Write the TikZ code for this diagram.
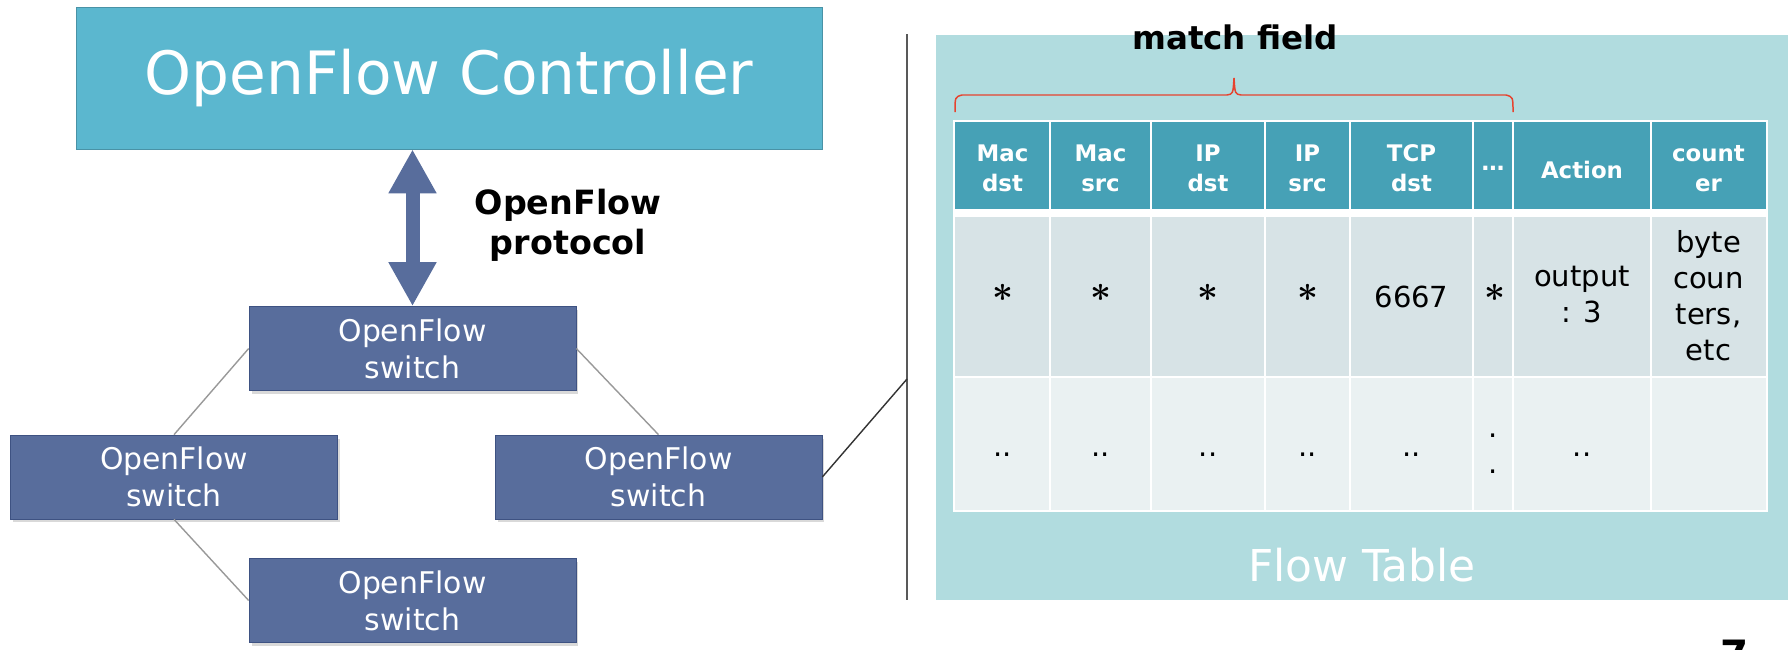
\documentclass[tikz,border=0pt]{standalone}
\usepackage{fontspec}
\setmainfont{DejaVu Sans}
\usetikzlibrary{arrows.meta,positioning,shadows}
\definecolor{ctrlblue}{HTML}{5BB7CF}
\definecolor{swblue}{HTML}{586D9C}
\definecolor{swedge}{HTML}{3E5282}
\definecolor{tblbg}{HTML}{B1DCDF}
\definecolor{hdrteal}{HTML}{46A1B6}
\definecolor{rowone}{HTML}{D7E3E6}
\definecolor{rowtwo}{HTML}{EAF1F2}
\definecolor{bracered}{HTML}{E6432F}

\begin{document}
\begin{tikzpicture}[
  x=0.02cm, y=-0.02cm,
  ofswitch/.style={draw=swedge,fill=swblue,minimum width=6.54cm,minimum height=1.68cm,
                   align=center,text=white,font=\fontsize{17}{21}\selectfont,
                   drop shadow={shadow xshift=0.05cm,shadow yshift=-0.07cm,opacity=0.3}},
  link/.style={black!40,line width=0.8pt},
  dblarr/.style={{Triangle[width=0.9cm,length=0.88cm]}-{Triangle[width=0.9cm,length=0.88cm]},
                 line width=0.28cm,draw=swblue},
  hdr/.style={align=center,text=white,font=\bfseries\fontsize{13}{17}\selectfont},
  cell/.style={align=center,font=\fontsize{16.5}{20.5}\selectfont},
  star/.style={font=\boldmath\fontsize{21}{25}\selectfont},
  cellsep/.style={white,line width=1.1pt}
]
\useasboundingbox (0,0) rectangle (1788,649);
% Controller
\node[draw=ctrlblue!80!black,fill=ctrlblue,minimum width=14.92cm,minimum height=2.84cm,
      text=white,font=\fontsize{34}{40}\selectfont]
  (ctrl) at (449,78) {OpenFlow Controller};
% Switches
\node[ofswitch] (sw1) at (412.5,348.5) {OpenFlow\\switch};
\node[ofswitch] (swl) at (174,477) {OpenFlow\\switch};
\node[ofswitch] (swr) at (658.5,477) {OpenFlow\\switch};
\node[ofswitch] (swb) at (412.5,600.5) {OpenFlow\\switch};
% Protocol
\draw[dblarr] (sw1.north |- ctrl.south) -- (sw1.north);
\node[align=center,font=\bfseries\fontsize{19}{23}\selectfont] (proto) at (568,225)
  {OpenFlow\\protocol};
% Links
\draw[link] (sw1.west) -- (swl.north);
\draw[link] (sw1.east) -- (swr.north);
\draw[link] (swl.south) -- (swb.west);
% Divider
\coordinate (divtop) at (907,34);
\coordinate (divbot) at (907,600);
\coordinate (tap) at (907,379);
\draw[black!65,line width=1.1pt] (divtop) -- (divbot);
\draw[black!80,line width=0.8pt] (swr.east) -- (tap);
% Flow table
\fill[tblbg] (936,35) rectangle (1790,600);
\fill[white] (953,120) rectangle (1768,512);
\fill[hdrteal] (955,122) rectangle (1766,209);
\fill[rowone] (955,217) rectangle (1766,376);
\fill[rowtwo] (955,378) rectangle (1766,510);
\draw[cellsep] (1050,120) -- (1050,512) (1151,120) -- (1151,512)
  (1265,120) -- (1265,512) (1350,120) -- (1350,512) (1473,120) -- (1473,512)
  (1513,120) -- (1513,512) (1651,120) -- (1651,512);
\node[text=white,font=\fontsize{25}{30}\selectfont] (ftlabel) at (1362,565) {Flow Table};
% Match field brace
\draw[bracered,line width=0.85pt] (955,112) .. controls (955,97) .. (962,95) -- (1227,95)
  .. controls (1233,94) .. (1234,78) .. controls (1235,94) .. (1241,95) -- (1506,95)
  .. controls (1513,97) .. (1513,112);
\node[font=\bfseries\fontsize{18.5}{22}\selectfont] (match) at (1235,37) {match field};
% Header
\node[hdr] (hmacd) at (1002.5,168) {Mac\\dst};
\node[hdr] (hmacs) at (1100.5,168) {Mac\\src};
\node[hdr] (hipd) at (1208,168) {IP\\dst};
\node[hdr] (hips) at (1307.5,168) {IP\\src};
\node[hdr] (htcp) at (1411.5,168) {TCP\\dst};
\node[hdr] (hmore) at (1493,168) {…};
\node[hdr] (hact) at (1582,170) {Action};
\node[hdr] (hcnt) at (1708.5,169) {count\\er};
% Row 1
\node[star] (amacd) at (1002.5,293) {$\ast$};
\node[star] (amacs) at (1100.5,293) {$\ast$};
\node[star] (aipd) at (1208,293) {$\ast$};
\node[star] (aips) at (1307.5,293) {$\ast$};
\node[cell] (atcp) at (1411.5,297) {6667};
\node[star] (amore) at (1495,293) {$\ast$};
\node[cell] (aact) at (1582,295) {output\\: 3};
\node[cell] (acnt) at (1708.5,296) {byte\\coun\\ters,\\etc};
% Row 2
\node[cell,anchor=base] (bmacd) at (1002.5,456) {..};
\node[cell,anchor=base] (bmacs) at (1100.5,456) {..};
\node[cell,anchor=base] (bipd) at (1208,456) {..};
\node[cell,anchor=base] (bips) at (1307.5,456) {..};
\node[cell,anchor=base] (btcp) at (1411.5,456) {..};
\node[cell] (bmore) at (1493,454) {.\\.};
\node[cell,anchor=base] (bact) at (1582,456) {..};
% Page number
\node[anchor=north,inner sep=0pt,font=\bfseries\fontsize{23}{23}\selectfont] (pnum)
  at (1735,640) {7};
\end{tikzpicture}
\end{document}
